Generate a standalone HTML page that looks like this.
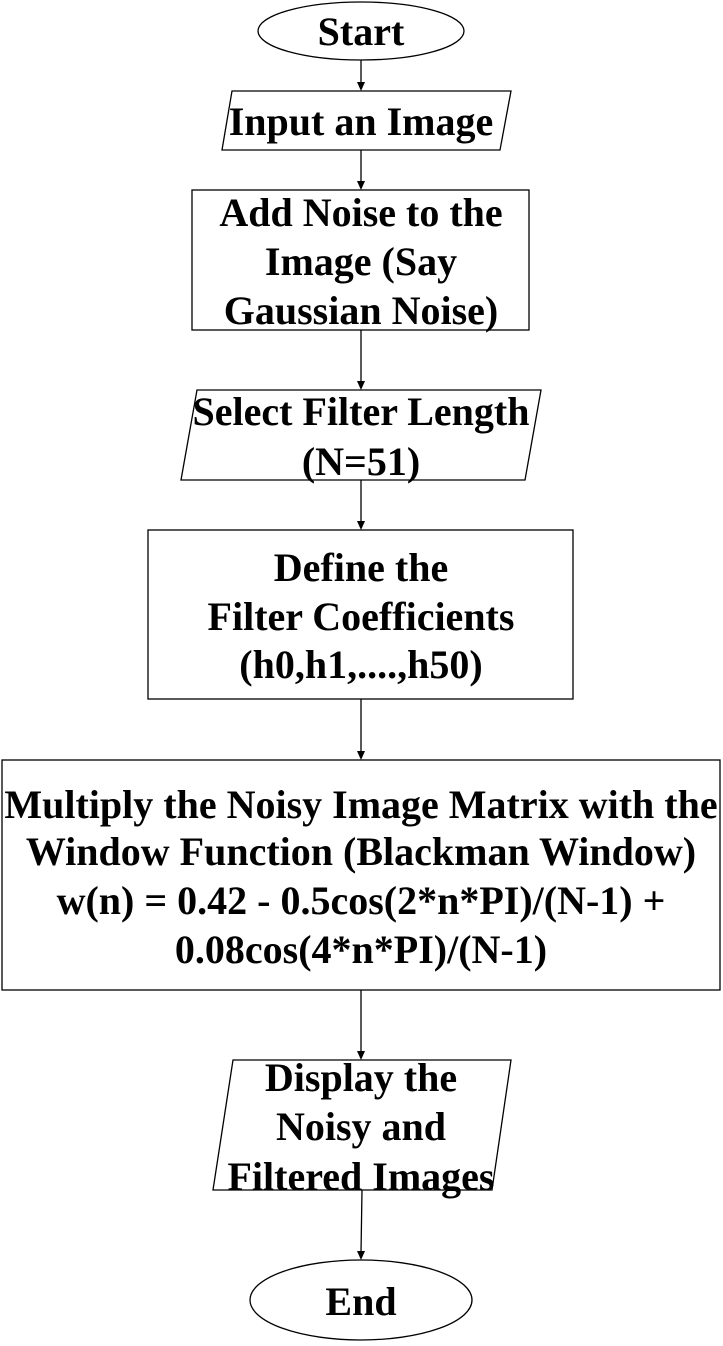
<!DOCTYPE html>
<html><head><meta charset="utf-8"><style>
html,body{margin:0;padding:0;background:#fff;}
body{width:723px;height:1341px;overflow:hidden;}
text{font-family:"Liberation Serif",serif;font-weight:bold;font-size:40px;fill:#000;text-anchor:middle;}
</style></head><body>
<svg width="723" height="1341" viewBox="0 0 723 1341" xmlns="http://www.w3.org/2000/svg">
<g fill="none" stroke="#000" stroke-width="1.3">
<ellipse cx="361" cy="31" rx="103" ry="29" fill="#fff"/>
<polygon points="232,91 511,91 500,150 222,150"/>
<rect x="192" y="190" width="337" height="140"/>
<polygon points="197,390 541,390 525,480 181,480"/>
<rect x="148" y="530" width="425" height="169"/>
<rect x="2" y="760" width="718" height="230"/>
<polygon points="233,1060 511,1060 492,1190 213,1190"/>
<ellipse cx="361" cy="1300" rx="111" ry="40"/>
<line x1="361" y1="60" x2="361" y2="84"/>
<line x1="361" y1="150" x2="361" y2="183"/>
<line x1="361" y1="330" x2="361" y2="383"/>
<line x1="361" y1="480" x2="361" y2="523"/>
<line x1="361" y1="699" x2="361" y2="753"/>
<line x1="361" y1="990" x2="361" y2="1053"/>
<line x1="362" y1="1190" x2="361" y2="1253"/>
</g>
<g fill="#000">
<polygon points="357,82 365,82 361,91"/>
<polygon points="357,181 365,181 361,190"/>
<polygon points="357,381 365,381 361,390"/>
<polygon points="357,521 365,521 361,530"/>
<polygon points="357,751 365,751 361,760"/>
<polygon points="357,1051 365,1051 361,1060"/>
<polygon points="357,1251 365,1251 361,1260"/>
</g>
<text x="361" y="45">Start</text>
<text x="361" y="135">Input an Image</text>
<text x="361" y="226">Add Noise to the</text>
<text x="361" y="275">Image (Say</text>
<text x="361" y="324">Gaussian Noise)</text>
<text x="361" y="425">Select Filter Length</text>
<text x="361" y="475">(N=51)</text>
<text x="361" y="581">Define the</text>
<text x="361" y="630">Filter Coefficients</text>
<text x="361" y="678">(h0,h1,....,h50)</text>
<text x="361" y="818">Multiply the Noisy Image Matrix with the</text>
<text x="361" y="865">Window Function (Blackman Window)</text>
<text x="361" y="914">w(n) = 0.42 - 0.5cos(2*n*PI)/(N-1) +</text>
<text x="361" y="963">0.08cos(4*n*PI)/(N-1)</text>
<text x="361" y="1091">Display the</text>
<text x="361" y="1140">Noisy and</text>
<text x="361" y="1190">Filtered Images</text>
<text x="361" y="1315">End</text>
</svg>
</body></html>
